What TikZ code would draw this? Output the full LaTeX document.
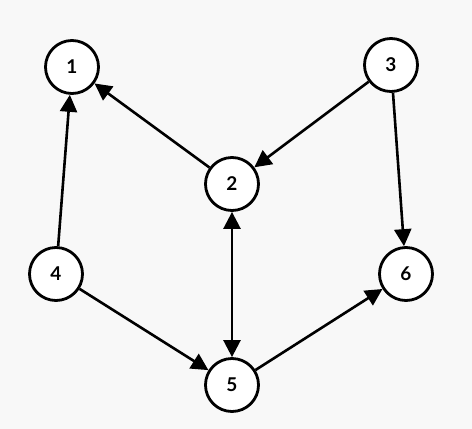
\documentclass[tikz,border=0pt]{standalone}
\usepackage{fontspec}
\setsansfont{Lato}
\usetikzlibrary{arrows.meta}
\definecolor{bgcol}{HTML}{F8F8F8}

\begin{document}
\begin{tikzpicture}[
  x=1pt, y=-1pt,
  font=\sffamily\bfseries\fontsize{19}{19}\selectfont,
  >={Triangle[length=17pt,width=17pt]},
  vert/.style={circle, draw=black, fill=white, line width=2.8pt,
               minimum size=53pt, inner sep=0pt},
  edge/.style={->, draw=black, line width=2.6pt},
]
\fill[bgcol] (0,0) rectangle (472,429);
\useasboundingbox (0,0) rectangle (472,429);

\node[vert] (n1) at (72,67)   {1};
\node[vert] (n2) at (232,184) {2};
\node[vert] (n3) at (391,65)  {3};
\node[vert] (n4) at (56,274)  {4};
\node[vert] (n5) at (232,385) {5};
\node[vert] (n6) at (406,274) {6};

\draw[edge] (n2) -- (n1);
\draw[edge] (n3) -- (n2);
\draw[edge] (n4) -- (n1);
\draw[edge] (n3) -- (n6);
\draw[edge] (n4) -- (n5);
\draw[edge] (n5) -- (n6);
\draw[edge,<->] (n2) -- (n5);
\end{tikzpicture}
\end{document}
